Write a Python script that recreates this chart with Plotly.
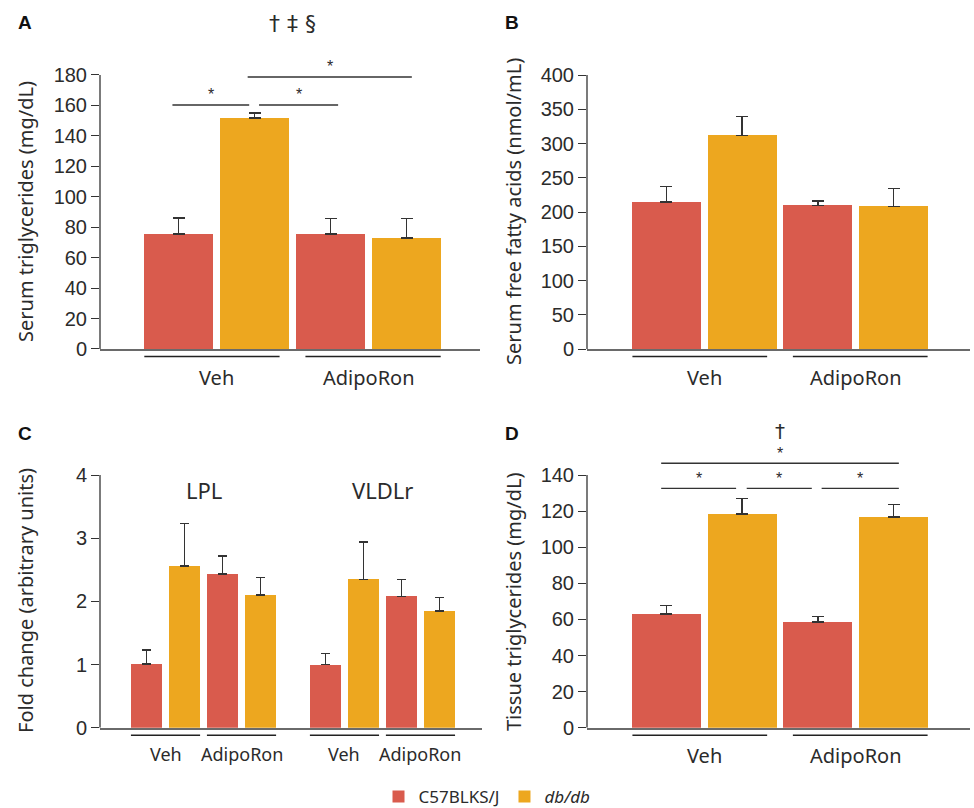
import plotly.graph_objects as go

W, H = 974, 808

# ---------------- data ----------------
groups = ["Veh", "AdipoRon"]
strains = ["C57BLKS/J", "<i>db/db</i>"]
colors = ["#D95B4D", "#EDA71F"]

# A: serum triglycerides (mg/dL)
serum_tg_c57 = [75.5, 75.5]
serum_tg_c57_err = [10.5, 10.2]
serum_tg_db = [151.8, 72.9]
serum_tg_db_err = [3.2, 12.7]

# B: serum free fatty acids (nmol/mL)
ffa_c57 = [214.5, 209.8]
ffa_c57_err = [22.5, 6.2]
ffa_db = [312.0, 208.3]
ffa_db_err = [27.0, 25.7]

# C: fold change
genes = ["LPL", "VLDLr"]
lpl_c57 = [1.01, 2.43]
lpl_c57_err = [0.22, 0.29]
lpl_db = [2.56, 2.10]
lpl_db_err = [0.67, 0.28]
vldlr_c57 = [1.00, 2.08]
vldlr_c57_err = [0.17, 0.27]
vldlr_db = [2.35, 1.85]
vldlr_db_err = [0.59, 0.21]

# D: tissue triglycerides (mg/dL)
tissue_tg_c57 = [63.0, 58.6]
tissue_tg_c57_err = [4.6, 2.9]
tissue_tg_db = [118.4, 116.7]
tissue_tg_db_err = [8.5, 6.9]

# significance comparisons: (bar i, bar j, level)
sig_A = [(0, 1, 160.3), (1, 2, 160.3), (1, 3, 178.7)]
sig_D = [(0, 1, 132.6), (1, 2, 132.6), (2, 3, 132.6), (0, 3, 146.5)]

# ---------------- style ----------------
TXT = "#2b2b2b"
TICKFONT = dict(family="Liberation Sans, Arial, sans-serif", size=20, color=TXT)
LABFONT = "Noto Sans, sans-serif"

fig = go.Figure()


def px_x(p):
    return p / W


def px_y(p):
    return 1 - p / H


panels = {
    "A": dict(s="", xpx=(100, 480), xr=(-1.033, 3.967), y0=349, ytop=75, ttop=180, rmax=190, dt=20),
    "B": dict(s="2", xpx=(587, 970), xr=(-1.05, 4.01), y0=349, ytop=75, ttop=400, rmax=400, dt=50),
    "C": dict(s="3", xpx=(100, 482), xr=(-1.224, 8.829), y0=727.7, ytop=475, ttop=4, rmax=4, dt=1),
    "D": dict(s="4", xpx=(587, 970), xr=(-1.05, 4.01), y0=727.7, ytop=475, ttop=140, rmax=150, dt=20),
}

layout_axes = {}
shapes = []
annotations = []


def ann(**kw):
    kw.setdefault("xanchor", "center")
    kw.setdefault("yanchor", "middle")
    kw.setdefault("showarrow", False)
    annotations.append(kw)


for key, p in panels.items():
    s = p["s"]
    pxu = (p["y0"] - p["ytop"]) / p["ttop"]
    top_px = p["y0"] - pxu * p["rmax"]
    layout_axes["xaxis" + s] = dict(
        domain=[px_x(p["xpx"][0]), px_x(p["xpx"][1])],
        range=list(p["xr"]), anchor="y" + s,
        showline=True, linecolor="#6a6a6a", linewidth=2,
        showticklabels=False, ticks="", showgrid=False, zeroline=False,
    )
    layout_axes["yaxis" + s] = dict(
        domain=[px_y(p["y0"]), px_y(top_px)],
        range=[0, p["rmax"]], anchor="x" + s,
        showline=False, ticks="outside", ticklen=8, tickwidth=1.3, tickcolor="#333",
        tickvals=list(range(0, p["ttop"] + 1, p["dt"])),
        tickfont=TICKFONT, showgrid=False, zeroline=False,
    )
    shapes.append(dict(type="line", xref=f"x{s} domain", yref="y" + s,
                       x0=0, x1=0, y0=0, y1=p["ttop"],
                       line=dict(color="#333", width=1.3)))


def add_bars(s, xs_list, vals_list, errs_list, width, cap, legend):
    for k in range(2):
        fig.add_trace(go.Bar(
            x=xs_list[k], y=vals_list[k], width=width,
            marker=dict(color=colors[k], line=dict(width=0)),
            error_y=dict(type="data", symmetric=False, array=errs_list[k],
                         arrayminus=[0] * len(errs_list[k]),
                         color="#333", thickness=1.4, width=cap),
            name=strains[k], showlegend=legend,
            xaxis="x" + s, yaxis="y" + s,
        ))


def group_decor(s, y0px, centers, half, label_shift, fsize, gap):
    for g, name in enumerate(groups):
        c = centers[g]
        x0 = c - half + (gap if g == 1 else 0)
        x1 = c + half - (gap if g == 0 else 0)
        shapes.append(dict(type="line", xref="x" + s, yref="paper",
                           x0=x0, x1=x1, y0=px_y(y0px + 7.5), y1=px_y(y0px + 7.5),
                           line=dict(color="#222", width=1.5)))
        ann(x=c, y=px_y(y0px + label_shift), xref="x" + s, yref="paper",
            text=name, font=dict(family=LABFONT, size=fsize, color=TXT))


simple = [
    ("", [serum_tg_c57, serum_tg_db], [serum_tg_c57_err, serum_tg_db_err], True, "A"),
    ("2", [ffa_c57, ffa_db], [ffa_c57_err, ffa_db_err], False, "B"),
    ("4", [tissue_tg_c57, tissue_tg_db], [tissue_tg_c57_err, tissue_tg_db_err], False, "D"),
]
for s, vals, errs, leg, key in simple:
    xs = [[2 * g + k for g in range(len(groups))] for k in range(2)]
    add_bars(s, xs, vals, errs, 0.91, 6, leg)
    group_decor(s, panels[key]["y0"], [2 * g + 0.5 for g in range(len(groups))],
                0.95, 28, 20, 0.12)

# Panel C
gene_offsets = [0, 4.71]
gene_vals = [(lpl_c57, lpl_db, lpl_c57_err, lpl_db_err),
             (vldlr_c57, vldlr_db, vldlr_c57_err, vldlr_db_err)]
xs_c = [[], []]
vals_c = [[], []]
errs_c = [[], []]
for gi, (c57, db, c57e, dbe) in enumerate(gene_vals):
    for g in range(len(groups)):
        xs_c[0].append(gene_offsets[gi] + 2 * g)
        xs_c[1].append(gene_offsets[gi] + 2 * g + 1)
        vals_c[0].append(c57[g]); vals_c[1].append(db[g])
        errs_c[0].append(c57e[g]); errs_c[1].append(dbe[g])
add_bars("3", xs_c, vals_c, errs_c, 0.816, 4.5, False)
for gi, gname in enumerate(genes):
    group_decor("3", panels["C"]["y0"],
                [gene_offsets[gi] + 2 * g + 0.5 for g in range(len(groups))],
                0.91, 26, 18, 0.0)
    ann(x=gene_offsets[gi] + 1.5, y=px_y(490), xref="x3", yref="paper",
        text=gname, font=dict(family=LABFONT, size=22, color=TXT))


def add_sig(s, comps, trims):
    for (i, j, lvl), (t0, t1) in zip(comps, trims):
        shapes.append(dict(type="line", xref="x" + s, yref="y" + s,
                           x0=i + t0, x1=j + t1, y0=lvl, y1=lvl,
                           line=dict(color="#333", width=1.4)))
        ann(x=(i + t0 + j + t1) / 2, y=lvl, xref="x" + s, yref="y" + s,
            text="*", yshift=10,
            font=dict(family="Liberation Sans, Arial", size=16, color=TXT))


add_sig("", sig_A, [(-0.08, -0.07), (0.06, 0.1), (-0.09, 0.07)])
add_sig("4", sig_D, [(-0.07, -0.08), (0.06, -0.08), (0.05, 0.07), (-0.07, 0.07)])

ann(x=1.5, y=px_y(23), xref="x", yref="paper", text="† ‡ §",
    font=dict(family="DejaVu Sans", size=22, color=TXT))
ann(x=1.5, y=146.5, xref="x4", yref="y4", text="†", yshift=32,
    font=dict(family="DejaVu Sans", size=20, color=TXT))

for letter, (lx, ly) in {"A": (25, 22), "B": (512, 22), "C": (25, 433), "D": (512, 433)}.items():
    ann(x=px_x(lx), y=px_y(ly), xref="paper", yref="paper", text=f"<b>{letter}</b>",
        font=dict(family="Liberation Sans, Arial", size=19, color="#111"))

ytitles = [
    ("Serum triglycerides (mg/dL)", 25, 212),
    ("Serum free fatty acids (nmol/mL)", 513, 212),
    ("Fold change (arbitrary units)", 25, 601),
    ("Tissue triglycerides (mg/dL)", 513, 602),
]
for t, tx, ty in ytitles:
    ann(x=px_x(tx), y=px_y(ty), xref="paper", yref="paper", text=t,
        textangle=-90, font=dict(family=LABFONT, size=20, color=TXT))

fig.update_layout(
    width=W, height=H, margin=dict(l=0, r=0, t=0, b=0, autoexpand=False),
    paper_bgcolor="white", plot_bgcolor="white",
    barmode="overlay", bargap=0,
    shapes=shapes, annotations=annotations,
    legend=dict(orientation="h", x=px_x(487), xanchor="center", y=px_y(797), yanchor="middle",
                font=dict(family=LABFONT, size=17, color=TXT), itemwidth=30,
                traceorder="normal"),
    **layout_axes,
)

fig.write_html("out.html")
